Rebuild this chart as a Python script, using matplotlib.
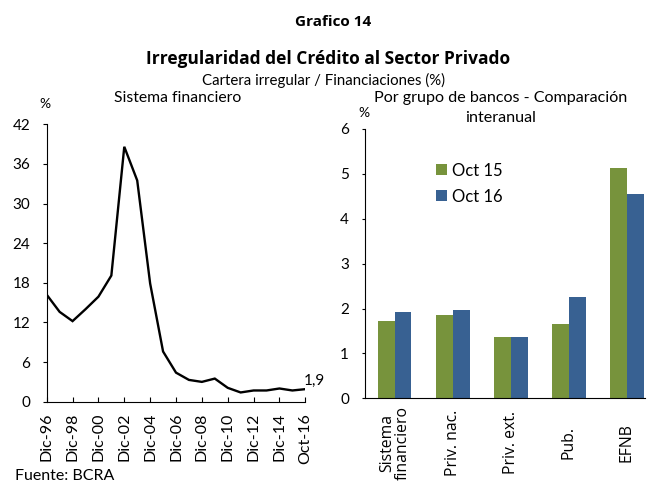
import matplotlib
matplotlib.use("Agg")
import matplotlib.pyplot as plt
import numpy as np
from matplotlib.patches import Patch

plt.rcParams['font.family'] = ['Lato', 'DejaVu Sans']

# ---- data ----
line_labels = ["Dic-96", "Dic-97", "Dic-98", "Dic-99", "Dic-00", "Dic-01", "Dic-02", "Dic-03",
               "Dic-04", "Dic-05", "Dic-06", "Dic-07", "Dic-08", "Dic-09", "Dic-10", "Dic-11",
               "Dic-12", "Dic-13", "Dic-14", "Dic-15", "Oct-16"]
line_values = [16.2, 13.6, 12.2, 14.0, 15.9, 19.1, 38.6, 33.5, 17.9, 7.6, 4.4, 3.3, 3.0, 3.5,
               2.1, 1.4, 1.7, 1.7, 2.0, 1.7, 1.9]
line_yticks = [0, 6, 12, 18, 24, 30, 36, 42]

bar_categories = ["Sistema\nfinanciero", "Priv. nac.", "Priv. ext.", "Pub.", "EFNB"]
oct15 = [1.72, 1.86, 1.37, 1.65, 5.12]
oct16 = [1.92, 1.96, 1.37, 2.25, 4.55]
bar_yticks = [0, 1, 2, 3, 4, 5, 6]

W, H = 651, 486
fig = plt.figure(figsize=(W / 100, H / 100), dpi=100)
fig.patch.set_facecolor('white')

def fx(px):
    return px / W

def fy(py):
    return 1 - py / H

# ---- left: line chart ----
ax1 = fig.add_axes([fx(46.7), fy(401.7), fx(305.3 - 46.7), (401.7 - 124.3) / H])
x = np.arange(len(line_values))
ax1.plot(x, line_values, color='black', lw=1.7, solid_joinstyle='miter')
ax1.set_xlim(0, len(line_values) - 1)
ax1.set_ylim(0, 42)
ax1.set_yticks(line_yticks)
ax1.set_yticklabels([str(v) for v in line_yticks], fontsize=11)
ax1.set_xticks(x[::2])
ax1.set_xticklabels(line_labels[::2], rotation=90, fontsize=11.5)
ax1.tick_params(axis='x', direction='in', length=3.5, pad=8, color='black', width=0.8)
ax1.tick_params(axis='y', direction='out', length=3, pad=9, color='black', width=0.8)
for s in ['top', 'right']:
    ax1.spines[s].set_visible(False)
for s in ['left', 'bottom']:
    ax1.spines[s].set_color('black')
    ax1.spines[s].set_linewidth(0.8)
ax1.text(x[-1] - 0.1, line_values[-1] + 0.2, "1,9", fontsize=11, ha='left', va='bottom',
         clip_on=False)

# ---- right: bar chart ----
ax2 = fig.add_axes([fx(365), fy(398.3), fx(645 - 365), (398.3 - 129) / H])
xb = np.arange(len(bar_categories))
bw = 0.29
green = '#77933C'
blue = '#386192'
ax2.bar(xb - bw / 2, oct15, width=bw, color=green, edgecolor='none')
ax2.bar(xb + bw / 2, oct16, width=bw, color=blue, edgecolor='none')
ax2.set_xlim(-0.51, 4.31)
ax2.set_ylim(0, 6)
ax2.set_yticks(bar_yticks)
ax2.set_yticklabels([str(v) for v in bar_yticks], fontsize=11)
ax2.set_xticks(xb)
ax2.set_xticklabels(bar_categories, rotation=90, fontsize=11.3, va='center', ha='center',
                    linespacing=0.95, family=['Open Sans', 'DejaVu Sans'])
ax2.tick_params(axis='x', length=0, pad=32)
ax2.tick_params(axis='y', direction='out', length=2.5, pad=9, color='black', width=0.8)
for s in ['top', 'right']:
    ax2.spines[s].set_visible(False)
for s in ['left', 'bottom']:
    ax2.spines[s].set_color('black')
    ax2.spines[s].set_linewidth(0.8)

handles = [Patch(facecolor=green, edgecolor='none'), Patch(facecolor=blue, edgecolor='none')]
ax2.legend(handles, ["Oct 15", "Oct 16"], loc='upper left', bbox_to_anchor=(0.255, 0.875),
           frameon=False, fontsize=12, handlelength=0.65, handleheight=0.65,
           handletextpad=0.3, labelspacing=0.6, borderpad=0, borderaxespad=0)

# ---- titles / texts ----
fig.text(fx(333), fy(21.7), "Grafico 14", fontsize=11, fontweight='bold', ha='center',
         va='center', family=['Open Sans', 'DejaVu Sans'])
fig.text(fx(328.5), fy(59.3), "Irregularidad del Crédito al Sector Privado", fontsize=12.5,
         fontweight='bold', ha='center', va='center', family=['Open Sans', 'DejaVu Sans'])
fig.text(fx(323), fy(80), "Cartera irregular / Financiaciones (%)", fontsize=10.8,
         ha='center', va='center')
fig.text(fx(178), fy(98.5), "Sistema financiero", fontsize=11.3, ha='center', va='center')
fig.text(fx(501), fy(98), "Por grupo de bancos - Comparación", fontsize=11.6, ha='center', va='center')
fig.text(fx(501), fy(118), "interanual", fontsize=11.6, ha='center', va='center')
fig.text(fx(45), fy(104), "%", fontsize=10, ha='center', va='center')
fig.text(fx(364), fy(113), "%", fontsize=10, ha='center', va='center')
fig.text(fx(15), fy(476), "Fuente: BCRA", fontsize=11.5, ha='left', va='center')

fig.savefig("out.png", dpi=100, facecolor='white')
